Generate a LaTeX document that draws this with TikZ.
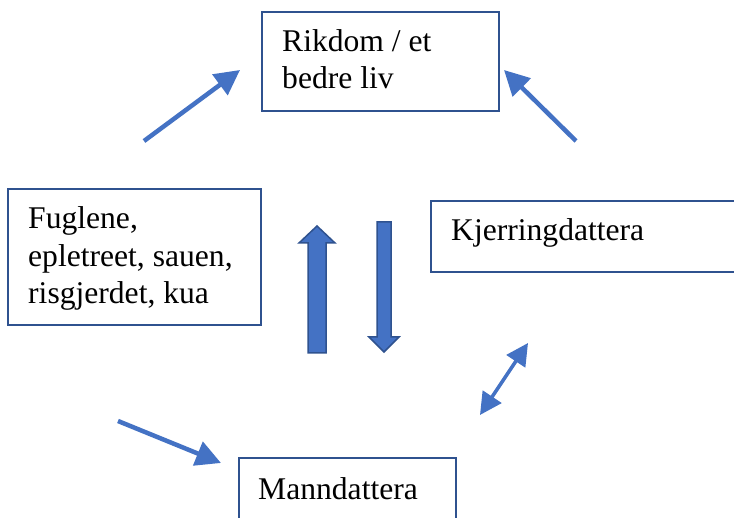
\documentclass[tikz,border=0pt]{standalone}
\usepackage{fontspec}
\setmainfont{Liberation Serif}
\usetikzlibrary{arrows.meta}
\definecolor{boxline}{HTML}{2F528F}
\definecolor{arrowblue}{HTML}{4472C4}
\tikzset{
  labelbox/.style={draw=boxline, line width=1.5pt, fill=white},
  boxtext/.style={anchor=base west, inner sep=0pt, font=\fontsize{31.6}{37.5}\selectfont, align=left},
  thinarrow/.style={draw=arrowblue, line width=4.5pt, -{Triangle[length=25pt,width=25pt]}},
  twoway/.style={draw=arrowblue, line width=3.5pt, {Triangle[length=22pt,width=22pt]}-{Triangle[length=22pt,width=22pt]}},
  blockarrow/.style={fill=arrowblue, draw=boxline, line width=1.5pt, line join=miter}
}
\begin{document}
\begin{tikzpicture}[x=1pt,y=-1pt]
  \useasboundingbox (0,0) rectangle (734,518);
  \clip (0,0) rectangle (734,518);
  \fill[white] (0,0) rectangle (734,518);

  % boxes
  \draw[labelbox] (262,12) rectangle (499,111);
  \draw[labelbox] (8,189) rectangle (261,325);
  \draw[labelbox] (431,201) rectangle (760,272);
  \draw[labelbox] (239,458) rectangle (456,540);

  % texts (anchored at the baseline of their last line)
  \node[boxtext] (rikdom) at (282,89) {Rikdom / et\\bedre liv};
  \node[boxtext] (fugl) at (28,304) {Fuglene,\\epletreet, sauen,\\risgjerdet, kua};
  \node[boxtext] (kjerring) at (451,241) {Kjerringdattera};
  \node[boxtext] (mann) at (258,500) {Manndattera};

  % arrow end points
  \coordinate (a1s) at (144,141);
  \coordinate (a1e) at (240,70);
  \coordinate (a2s) at (576,141);
  \coordinate (a2e) at (504,70);
  \coordinate (a3s) at (118,421);
  \coordinate (a3e) at (221,463);
  \coordinate (a4s) at (528,343);
  \coordinate (a4e) at (480,415);

  \draw[thinarrow] (a1s) -- (a1e);
  \draw[thinarrow] (a2s) -- (a2e);
  \draw[thinarrow] (a3s) -- (a3e);
  \draw[twoway] (a4s) -- (a4e);

  % block arrows in the middle
  \draw[blockarrow] (308,353) -- (308,243) -- (299,243) -- (317,226) -- (335,243) -- (326,243) -- (326,353) -- cycle;
  \draw[blockarrow] (377,222) -- (391,222) -- (391,337) -- (399,337) -- (384,352) -- (369,337) -- (377,337) -- cycle;
\end{tikzpicture}
\end{document}
